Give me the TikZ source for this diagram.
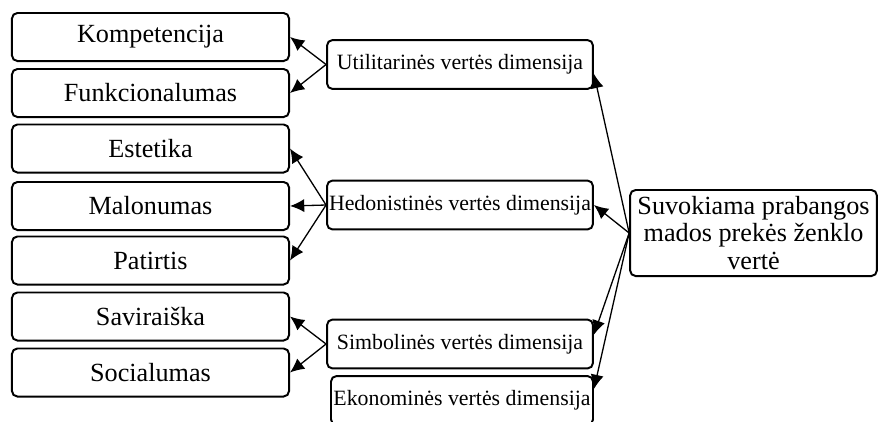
\documentclass[tikz,border=0pt]{standalone}
\usepackage{fontspec}
\setmainfont{Liberation Serif}
\usetikzlibrary{arrows.meta}

\begin{document}
\begin{tikzpicture}[x=0.0161cm, y=-0.0161cm,
        item/.style={draw, line width=0.9pt, rounded corners=2.5pt, minimum width=126.9pt, minimum height=22pt, inner sep=0pt, font=\fontsize{12}{12}\selectfont},
        dim/.style={draw, line width=0.9pt, rounded corners=2.5pt, minimum width=121.8pt, minimum height=22.4pt, inner sep=0pt, font=\fontsize{10}{10}\selectfont},
        link/.style={line width=0.6pt, -{Latex[length=6.5pt, width=6pt]}}]
            \clip (0, 0) rectangle (878, 421);
            % left column
            \node[item] (komp) at (150.5, 37) {Kompetencija};
            \node[item] (funk) at (150.5, 93) {Funkcionalumas};
            \node[item] (est) at (150.5, 148.5) {Estetika};
            \node[item] (malo) at (150.5, 206) {Malonumas};
            \node[item] (pat) at (150.5, 260.5) {Patirtis};
            \node[item] (savi) at (150.5, 316.5) {Saviraiška};
            \node[item] (soc) at (150.5, 372.5) {Socialumas};
            % dimensions
            \node[dim] (util) at (460, 64.5) {Utilitarinės vertės dimensija};
            \node[dim] (hed) at (460, 205) {Hedonistinės vertės dimensija};
            \node[dim] (simb) at (460, 344) {Simbolinės vertės dimensija};
            \node[dim, minimum width=120pt] (ekon) at (462, 400.5) {Ekonominės vertės dimensija};
            % value
            \node[draw, line width=0.9pt, rounded corners=2.5pt, minimum width=113pt, minimum height=39.4pt, inner sep=0pt, align=center, font=\fontsize{12}{12.5}\selectfont] (value) at (753.5, 233) {Suvokiama prabangos\\mados prekės ženklo\\vertė};
            \draw[link] (util.west) -- (komp.east);
            \draw[link] (util.west) -- (funk.east);
            \draw[link] (hed.west) -- (est.east);
            \draw[link] (hed.west) -- (malo.east);
            \draw[link] (hed.west) -- (pat.east);
            \draw[link] (simb.west) -- (savi.east);
            \draw[link] (simb.west) -- (soc.east);
            \draw[link] (value.west) -- (util.-4);
            \draw[link] (value.west) -- (hed.east);
            \draw[link] (value.west) -- (simb.4);
            \draw[link] (value.west) -- (ekon.5);
        \end{tikzpicture}
\end{document}
